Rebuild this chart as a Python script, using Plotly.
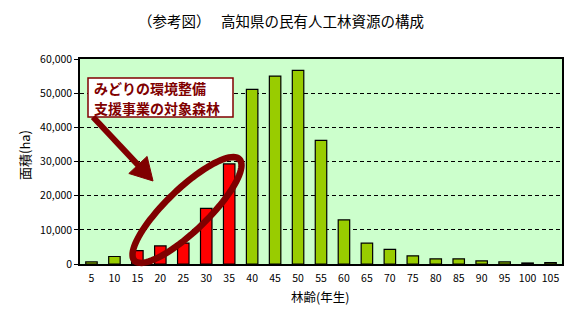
import numpy as np
import plotly.graph_objects as go

# ---- data ----
ages = ["5", "10", "15", "20", "25", "30", "35", "40", "45", "50", "55",
        "60", "65", "70", "75", "80", "85", "90", "95", "100", "105"]
area = [600, 2200, 3900, 5300, 6100, 16300, 29300, 51100, 55000, 56700, 36200,
        12900, 6100, 4300, 2400, 1500, 1500, 900, 600, 300, 400]
target = [False, False, True, True, True, True, True, False, False, False, False,
          False, False, False, False, False, False, False, False, False, False]
callout_lines = ["みどりの環境整備", "支援事業の対象森林"]

GREEN = "#99CC00"
RED = "#FF0000"
DARK = "#800000"
colors = [RED if t else GREEN for t in target]

W, H = 576, 323
L, R, T, B = 80, 14, 59, 59
PW, PH = W - L - R, H - T - B

def px2paper(x, y):
    return (x - L) / PW, (H - B - y) / PH

def path_from(points, close=True):
    pp = [px2paper(x, y) for x, y in points]
    s = "M " + " L ".join(f"{p[0]:.4f},{p[1]:.4f}" for p in pp)
    return s + (" Z" if close else "")

fig = go.Figure()
xs = list(range(len(ages)))
fig.add_trace(go.Bar(
    x=xs, y=area, width=0.5,
    marker=dict(color=colors, line=dict(color="black", width=1.2)),
    showlegend=False, hoverinfo="skip",
))

jp = "Noto Sans CJK JP"

# ---- callout box ----
x0, y0 = px2paper(88, 117)
x1, y1 = px2paper(233, 78)
shapes = [dict(type="rect", xref="paper", yref="paper", x0=x0, y0=y0, x1=x1, y1=y1,
               fillcolor="white", line=dict(color=DARK, width=1.5), layer="above")]

# ---- rotated ellipse (pixel space -> paper) ----
cx, cy, a, b, ang = 187, 210, 73, 21, np.deg2rad(44)
t = np.linspace(0, 2 * np.pi, 90)
ex = cx + a * np.cos(t) * np.cos(ang) + b * np.sin(t) * np.sin(ang)
ey = cy - a * np.cos(t) * np.sin(ang) + b * np.sin(t) * np.cos(ang)
shapes.append(dict(type="path", path=path_from(zip(ex, ey)), xref="paper", yref="paper",
                   line=dict(color=DARK, width=6.5), layer="above"))

# ---- arrow (shaft + head) ----
tail = np.array([93.0, 117.0])
tip = np.array([153.0, 181.0])
u = (tip - tail) / np.linalg.norm(tip - tail)
n = np.array([-u[1], u[0]])
head_len, head_half = 22.0, 12.5
base = tip - u * head_len
shapes.append(dict(type="path", path=path_from([tail, base + u * 2], close=False),
                   xref="paper", yref="paper", line=dict(color=DARK, width=6),
                   layer="above"))
shapes.append(dict(type="path",
                   path=path_from([tip, base + n * head_half, base - n * head_half]),
                   xref="paper", yref="paper", fillcolor=DARK,
                   line=dict(color=DARK, width=1), layer="above"))

annotations = []
for i, line in enumerate(callout_lines):
    lx, ly = px2paper(92, 87.5 + 20.6 * i)
    annotations.append(dict(
        x=lx, y=ly, xref="paper", yref="paper", xanchor="left", yanchor="middle",
        text=f"<b>{line}</b>", showarrow=False,
        font=dict(family=jp, size=14, color=DARK),
    ))
tx, ty = px2paper(281, 20)
annotations.append(dict(
    x=tx, y=ty, xref="paper", yref="paper", showarrow=False,
    xanchor="center", yanchor="middle",
    text="（参考図）　 高知県の民有人工林資源の構成",
    font=dict(family=jp, size=14.5, color="black"),
))
yx, yy = px2paper(24, 155)
annotations.append(dict(
    x=yx, y=yy, xref="paper", yref="paper", showarrow=False, textangle=-90,
    text="面積(ha)", font=dict(family=jp, size=13, color="black"),
    xanchor="center", yanchor="middle"))
xx, xy = px2paper(320, 296)
annotations.append(dict(
    x=xx, y=xy, xref="paper", yref="paper", showarrow=False,
    text="林齢(年生)", font=dict(family=jp, size=12.5, color="black"),
    xanchor="center", yanchor="middle"))

fig.update_layout(
    width=W, height=H,
    margin=dict(l=L, r=R, t=T, b=B, pad=0),
    paper_bgcolor="white", plot_bgcolor="#CCFFCC",
    bargap=0.5,
    shapes=shapes, annotations=annotations,
    xaxis=dict(
        tickmode="array", tickvals=xs, ticktext=ages, range=[-0.5, len(ages) - 0.5],
        showgrid=False, showline=True, linecolor="black", linewidth=1.5, mirror=True,
        ticks="", tickfont=dict(family=jp, size=10.5, color="black"),
        zeroline=False, fixedrange=True, ticklabelstandoff=4,
    ),
    yaxis=dict(
        range=[0, 60000], dtick=10000, tickformat=",",
        showgrid=True, gridcolor="black", gridwidth=1, griddash="4px,3px",
        showline=True, linecolor="black", linewidth=1.5, mirror=True,
        ticks="outside", ticklen=4, tickcolor="black",
        tickfont=dict(family=jp, size=10.5, color="black"),
        zeroline=False, fixedrange=True,
    ),
    font=dict(family=jp),
)

fig.write_html("out.html")
